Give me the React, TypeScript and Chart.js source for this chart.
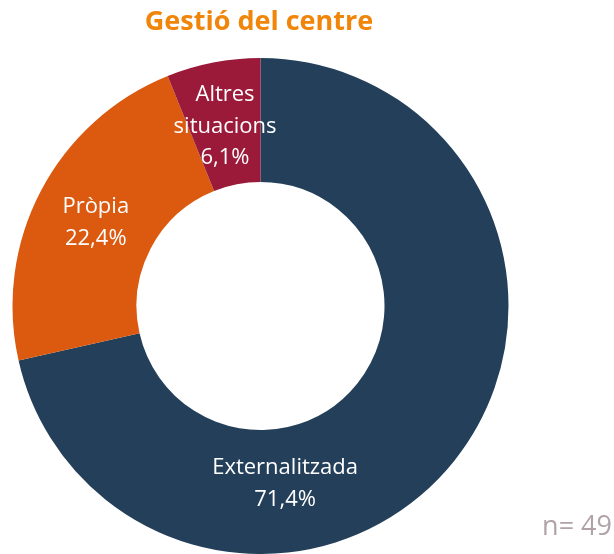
import React, { useEffect, useRef } from "react";
import { Chart, registerables } from "chart.js";

Chart.register(...registerables);

const categories = ["Externalitzada", "Pròpia", "Altres situacions"];
const values = [71.4, 22.4, 6.1];
const valueLabels = ["71,4%", "22,4%", "6,1%"];
const colors = ["#243F5A", "#DB5A0F", "#9B1A3A"];
const titleText = "Gestió del centre";
const sampleText = "n= 49";

const FONT = "'Open Sans', 'Liberation Sans', sans-serif";

// label layout: optional angle override (degrees clockwise from top)
const labelAngles: (number | null)[] = [172, null, null];
const labelLines: string[][] = [["Externalitzada"], ["Pròpia"], ["Altres", "situacions"]];

const overlayPlugin = {
  id: "overlay",
  afterDraw(chart: any) {
    const ctx = chart.ctx;
    const meta = chart.getDatasetMeta(0);
    ctx.save();
    // title
    ctx.fillStyle = "#F0850A";
    ctx.font = `bold 27px ${FONT}`;
    ctx.textAlign = "center";
    ctx.textBaseline = "middle";
    ctx.fillText(titleText, 259, 22);
    // n
    ctx.fillStyle = "#B0A3A6";
    ctx.font = `27px ${FONT}`;
    ctx.textAlign = "right";
    ctx.fillText(sampleText, 612, 527);
    // labels
    ctx.fillStyle = "#FFFFFF";
    ctx.font = `22px ${FONT}`;
    ctx.textAlign = "center";
    meta.data.forEach((arc: any, i: number) => {
      const { x, y, startAngle, endAngle, innerRadius, outerRadius } = arc.getProps(
        ["x", "y", "startAngle", "endAngle", "innerRadius", "outerRadius"],
        true
      );
      let a = (startAngle + endAngle) / 2;
      let r = (innerRadius + outerRadius) / 2;
      if (labelAngles[i] !== null) {
        a = ((labelAngles[i] as number) - 90) * Math.PI / 180;
        r = r * 0.95;
      }
      const cx = x + Math.cos(a) * r;
      const cy = y + Math.sin(a) * r + 3;
      const lines = [...labelLines[i], valueLabels[i]];
      const lh = 31.5;
      const startY = cy - ((lines.length - 1) * lh) / 2;
      lines.forEach((t, j) => ctx.fillText(t, cx, startY + j * lh));
    });
    ctx.restore();
  },
};

export default function App() {
  const ref = useRef<HTMLCanvasElement>(null);
  useEffect(() => {
    if (!ref.current) return;
    const chart = new Chart(ref.current, {
      type: "doughnut",
      data: {
        labels: categories,
        datasets: [
          {
            data: values,
            backgroundColor: colors,
            borderWidth: 0,
          },
        ],
      },
      options: {
        responsive: false,
        animation: false,
        cutout: "50%",
        layout: { padding: { left: 12, right: 105, top: 58, bottom: 0 } },
        plugins: {
          legend: { display: false },
          title: { display: false },
          tooltip: { enabled: false },
        },
      },
      plugins: [overlayPlugin],
    });
    return () => chart.destroy();
  }, []);
  return (
    <div style={{ position: "fixed", left: 0, top: 0, width: 614, height: 554, background: "#fff" }}>
      <canvas ref={ref} width={614} height={554} style={{ width: 614, height: 554 }} />
    </div>
  );
}
